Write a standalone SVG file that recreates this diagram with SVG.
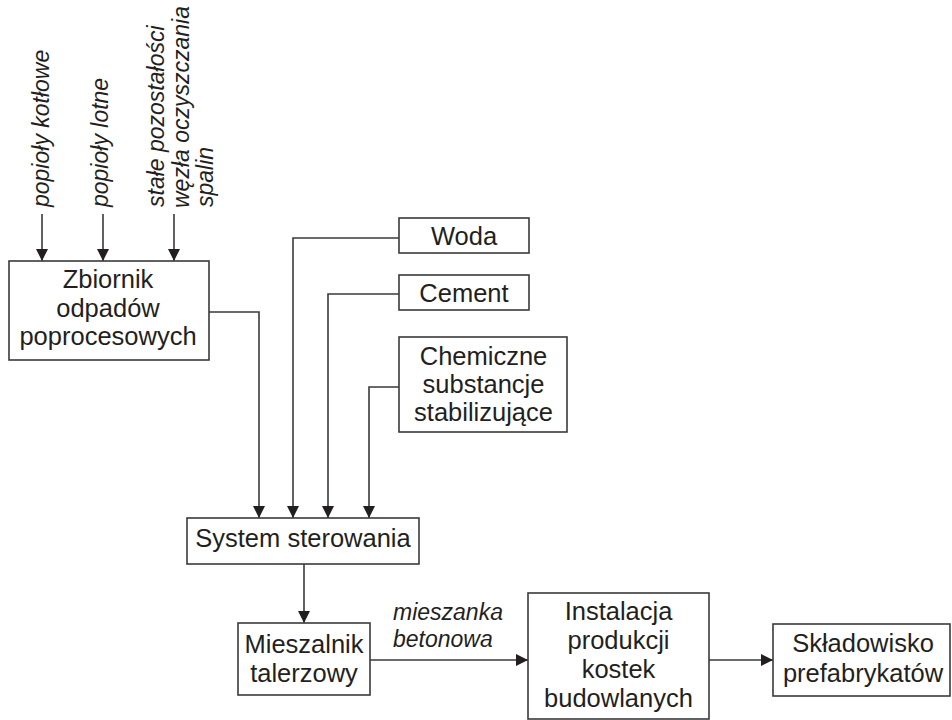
<svg xmlns="http://www.w3.org/2000/svg" width="952" height="720" viewBox="0 0 952 720">
<style>
.box{fill:#fff;stroke:#3a3a3a;stroke-width:1.6}
.t{font-family:"Liberation Sans",Arial,sans-serif;font-size:25.5px;fill:#231f20;text-anchor:middle}
.i{font-family:"Liberation Sans",Arial,sans-serif;font-size:23px;font-style:italic;fill:#231f20}
.c{fill:none;stroke:#3a3a3a;stroke-width:1.6}
</style>
<defs>
<marker id="ah" markerUnits="userSpaceOnUse" markerWidth="12" markerHeight="12" refX="12" refY="6" orient="auto">
<path d="M0,0 L12,6 L0,12 z" fill="#231f20"/>
</marker>
</defs>
<rect width="952" height="720" fill="#fff"/>
<g id="labels-in">
<text class="i" transform="translate(49,207) rotate(-90)">popioły kotłowe</text>
<text class="i" transform="translate(108,207) rotate(-90)">popioły lotne</text>
<text class="i" transform="translate(164,207) rotate(-90)">stałe pozostałości</text>
<text class="i" transform="translate(189,208) rotate(-90)">węzła oczyszczania</text>
<text class="i" transform="translate(213,207) rotate(-90)">spalin</text>
</g>
<g id="connectors">
<path class="c" d="M42,214 V261" marker-end="url(#ah)"/>
<path class="c" d="M103,214 V261" marker-end="url(#ah)"/>
<path class="c" d="M174,214 V261" marker-end="url(#ah)"/>
<path class="c" d="M209,312 H259 V518" marker-end="url(#ah)"/>
<path class="c" d="M399,238 H293 V518" marker-end="url(#ah)"/>
<path class="c" d="M399,294 H328 V518" marker-end="url(#ah)"/>
<path class="c" d="M399,387 H369 V518" marker-end="url(#ah)"/>
<path class="c" d="M304,564 V623" marker-end="url(#ah)"/>
<path class="c" d="M370,660 H528" marker-end="url(#ah)"/>
<path class="c" d="M709,660 H773" marker-end="url(#ah)"/>
<text class="i" x="393" y="620">mieszanka</text>
<text class="i" x="393" y="647">betonowa</text>
</g>
<g id="zbiornik">
<rect class="box" x="9" y="261" width="200" height="99"/>
<text class="t" x="108" y="288">Zbiornik</text>
<text class="t" x="108" y="316.5">odpadów</text>
<text class="t" x="108" y="345">poprocesowych</text>
</g>
<g id="woda">
<rect class="box" x="399" y="218" width="130" height="35"/>
<text class="t" x="464" y="245">Woda</text>
</g>
<g id="cement">
<rect class="box" x="399" y="275" width="130" height="35"/>
<text class="t" x="464" y="302">Cement</text>
</g>
<g id="chemiczne">
<rect class="box" x="399" y="337" width="168" height="95"/>
<text class="t" x="483.5" y="365">Chemiczne</text>
<text class="t" x="483.5" y="393">substancje</text>
<text class="t" x="483.5" y="421">stabilizujące</text>
</g>
<g id="system">
<rect class="box" x="187" y="518" width="232" height="46"/>
<text class="t" x="303" y="547">System sterowania</text>
</g>
<g id="mieszalnik">
<rect class="box" x="238" y="623" width="132" height="72"/>
<text class="t" x="304" y="653">Mieszalnik</text>
<text class="t" x="304" y="682">talerzowy</text>
</g>
<g id="instalacja">
<rect class="box" x="528" y="593" width="181" height="126"/>
<text class="t" x="618.5" y="620">Instalacja</text>
<text class="t" x="618.5" y="649">produkcji</text>
<text class="t" x="618.5" y="678">kostek</text>
<text class="t" x="618.5" y="707">budowlanych</text>
</g>
<g id="skladowisko">
<rect class="box" x="773" y="624" width="177" height="72"/>
<text class="t" x="863" y="652">Składowisko</text>
<text class="t" x="863" y="682">prefabrykatów</text>
</g>
</svg>
